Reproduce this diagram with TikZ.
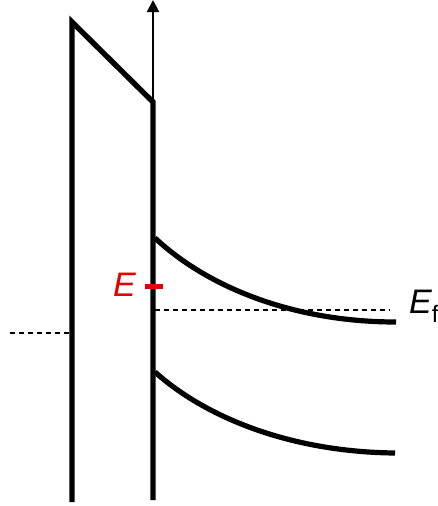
\documentclass[tikz,border=0pt]{standalone}
\usepackage{fontspec}
\setmainfont{Liberation Sans}
\usepackage{xcolor}
\usepackage{tikz}
\usetikzlibrary{arrows.meta}

\begin{document}
\begin{tikzpicture}[
    x=1pt, y=-1pt,
    barrier/.style={line width=5.4pt, black},
    band/.style={line width=5.2pt, black, line cap=butt},
    level/.style={line width=1.6pt, dash pattern=on 5pt off 4pt},
    axis/.style={line width=2.2pt, -{Triangle[width=12pt,length=12pt]}},
    label/.style={font=\fontsize{34}{38}\selectfont\itshape, inner sep=0pt}
]
    \useasboundingbox (0,0) rectangle (438,506);

    % Barrier outline
    \coordinate (LB) at (72,502);
    \coordinate (LT) at (72,22);
    \coordinate (RT) at (153,102);
    \coordinate (RB) at (153,500);
    \draw[barrier] (LB) -- (LT) -- (RT) -- (RB);

    % Energy axis
    \coordinate (AxTop) at (153,0);
    \draw[axis] (RT) -- (AxTop);

    % Bands
    \coordinate (CB0) at (155,238);
    \coordinate (CB1) at (396,322);
    \coordinate (VB0) at (155,372);
    \coordinate (VB1) at (395,453);
    \draw[band] (CB0) .. controls (205,285) and (290,322) .. (CB1);
    \draw[band] (VB0) .. controls (205,417) and (290,452) .. (VB1);

    % Fermi levels
    \coordinate (FR0) at (155,310);
    \coordinate (FR1) at (390,310);
    \coordinate (FL0) at (10,333);
    \coordinate (FL1) at (70,333);
    \draw[level] (FR0) -- (FR1);
    \draw[level] (FL0) -- (FL1);

    % Trap level
    \coordinate (T0) at (145,286);
    \coordinate (T1) at (163,286);
    \draw[line width=5pt, red!90!black] (T0) -- (T1);
    \node[label, text=red!90!black, anchor=east] (E) at (136,285) {E};
    \node[label, anchor=west] (Ef) at (409,306) {E\textsubscript{\upshape f}};

\end{tikzpicture}
\end{document}
